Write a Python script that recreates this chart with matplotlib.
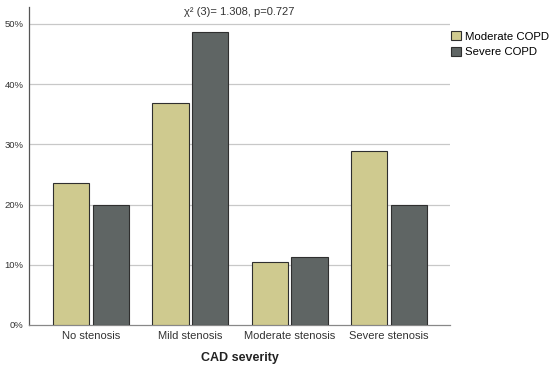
import numpy as np
import matplotlib.pyplot as plt
from matplotlib.patches import Patch

plt.rcParams['font.family'] = ['Liberation Sans', 'DejaVu Sans']

categories = ['No stenosis', 'Mild stenosis', 'Moderate stenosis', 'Severe stenosis']
moderate_copd = [23.6, 36.9, 10.5, 28.9]
severe_copd = [20.0, 48.7, 11.3, 20.0]
series_names = ['Moderate COPD', 'Severe COPD']
y_ticks = [0, 10, 20, 30, 40, 50]

col_mod = '#cfca8f'
col_sev = '#5f6564'
edge = '#2f2f2f'

fig = plt.figure(figsize=(5.5, 3.73), dpi=100)
ax = fig.add_axes([29 / 550, 1 - 325 / 373, 421 / 550, 318 / 373])

x = np.arange(len(categories))
w = 0.365
ax.bar(x - 0.2, moderate_copd, w, color=col_mod, edgecolor=edge, linewidth=0.8, zorder=3)
ax.bar(x + 0.2, severe_copd, w, color=col_sev, edgecolor=edge, linewidth=0.8, zorder=3)

ax.set_xlim(-0.625, 3.615)
ax.set_ylim(0, 52.8)
ax.set_yticks(y_ticks)
ax.set_yticklabels(['%d%%' % t for t in y_ticks], fontsize=6.8, color='#333333')
ax.set_xticks(x)
ax.set_xticklabels(categories, fontsize=8, color='#333333')
ax.tick_params(length=0, pad=4)
ax.tick_params(axis='y', pad=4)

for t in y_ticks[1:]:
    ax.axhline(t, color='#c8c8c8', linewidth=0.9, zorder=1)

for s in ['top', 'right']:
    ax.spines[s].set_visible(False)
ax.spines['left'].set_color('#555555')
ax.spines['bottom'].set_color('#888888')
ax.spines['left'].set_linewidth(0.9)
ax.spines['bottom'].set_linewidth(0.9)

ax.set_xlabel('CAD severity', fontsize=9, fontweight='bold', labelpad=8, color='#222222')
ax.text(0.5, 1 - 5 / 318, 'χ² (3)= 1.308, p=0.727', transform=ax.transAxes,
        ha='center', va='center', fontsize=8, color='#333333')

handles = [Patch(facecolor=col_mod, edgecolor=edge, linewidth=0.8),
           Patch(facecolor=col_sev, edgecolor=edge, linewidth=0.8)]
fig.legend(handles, series_names, loc='upper left', bbox_to_anchor=(451 / 550, 1 - 31 / 373),
           frameon=False, fontsize=8.2, handlelength=0.9, handleheight=0.9, handletextpad=0.3,
           labelspacing=0.45, borderpad=0, borderaxespad=0)

fig.savefig('out.png', dpi=100)
